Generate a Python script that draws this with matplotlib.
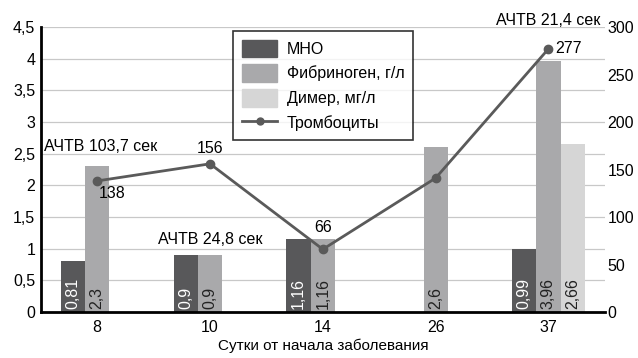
import numpy as np
import matplotlib.pyplot as plt
from matplotlib.lines import Line2D
from matplotlib.patches import Patch

plt.rcParams['font.family'] = ['Liberation Sans', 'DejaVu Sans']

days = ['8', '10', '14', '26', '37']
mno = [0.81, 0.9, 1.16, None, 0.99]
fibrinogen = [2.3, 0.9, 1.16, 2.6, 3.96]
dimer = [None, None, None, None, 2.66]
platelets = [138, 156, 66, 141, 277]
platelet_labels = ['138', '156', '66', '', '277']
aptt = ['АЧТВ 103,7 сек', 'АЧТВ 24,8 сек', '', '', 'АЧТВ 21,4 сек']

c_mno = '#58585a'
c_fib = '#a9a9ab'
c_dim = '#d6d6d6'
c_line = '#5a5a5a'
fs = 11.5

fig = plt.figure(figsize=(6.38, 3.58), dpi=100)
ax = fig.add_axes([0.064, 0.1285, 0.884, 0.796])
x = np.arange(len(days))
w = 0.215

for vals, off, col, tc in [(mno, -w, c_mno, 'white'), (fibrinogen, 0, c_fib, '#222222'),
                           (dimer, w, c_dim, '#222222')]:
    for i, v in enumerate(vals):
        if v is None:
            continue
        ax.bar(x[i] + off, v, w, color=col, zorder=2)
        ax.text(x[i] + off, 0.05, str(v).replace('.', ','), rotation=90,
                ha='center', va='bottom', color=tc, fontsize=fs, zorder=3)

ax.set_xlim(-0.5, len(days) - 0.5)
ax.set_ylim(0, 4.5)
ax.set_yticks(np.arange(0, 4.51, 0.5))
ax.set_yticklabels([('%g' % t).replace('.', ',') for t in np.arange(0, 4.51, 0.5)])
ax.set_xticks(x)
ax.set_xticklabels(days)
ax.set_xlabel('Сутки от начала заболевания', fontsize=11, labelpad=2)
ax.grid(axis='y', color='#c8c8c8', lw=0.9, zorder=0)
ax.set_axisbelow(True)
for s in ['top', 'right']:
    ax.spines[s].set_visible(False)
ax.spines['left'].set_linewidth(2)
ax.spines['bottom'].set_linewidth(2)
ax.tick_params(axis='both', length=0, labelsize=fs, pad=4)
ax.tick_params(axis='x', pad=6)

ax2 = ax.twinx()
ax2.set_ylim(0, 300)
ax2.set_yticks(range(0, 301, 50))
for s in ax2.spines.values():
    s.set_visible(False)
ax2.tick_params(axis='y', length=0, labelsize=fs, pad=2)
ax2.plot(x, platelets, color=c_line, lw=2, marker='o', ms=6, zorder=4)

offsets = {'138': (1, -9), '156': (0, 11), '66': (0, 16), '277': (5, 0)}
ha_map = {'138': 'left', '156': 'center', '66': 'center', '277': 'left'}
for i, lab in enumerate(platelet_labels):
    if not lab:
        continue
    ax2.annotate(lab, (x[i], platelets[i]), xytext=offsets[lab], textcoords='offset points',
                 ha=ha_map[lab], va='center', fontsize=fs)

ax.text(-0.47, 2.5, aptt[0], ha='left', va='bottom', fontsize=fs)
ax.text(1, 1.02, aptt[1], ha='center', va='bottom', fontsize=fs)
ax.text(4.46, 4.48, aptt[4], ha='right', va='bottom', fontsize=fs)

handles = [Patch(color=c_mno, label='МНО'),
           Patch(color=c_fib, label='Фибриноген, г/л'),
           Patch(color=c_dim, label='Димер, мг/л'),
           Line2D([], [], color=c_line, lw=2, marker='o', ms=5, label='Тромбоциты')]
leg = ax2.legend(handles=handles, loc='upper left', bbox_to_anchor=(0.327, 1.015),
                 fontsize=fs, frameon=True, fancybox=False, edgecolor='black',
                 handlelength=2.2, handleheight=1.35, labelspacing=0.42,
                 borderpad=0.55, handletextpad=0.6)
leg.get_frame().set_linewidth(1.2)

fig.savefig('out.png', dpi=100)
